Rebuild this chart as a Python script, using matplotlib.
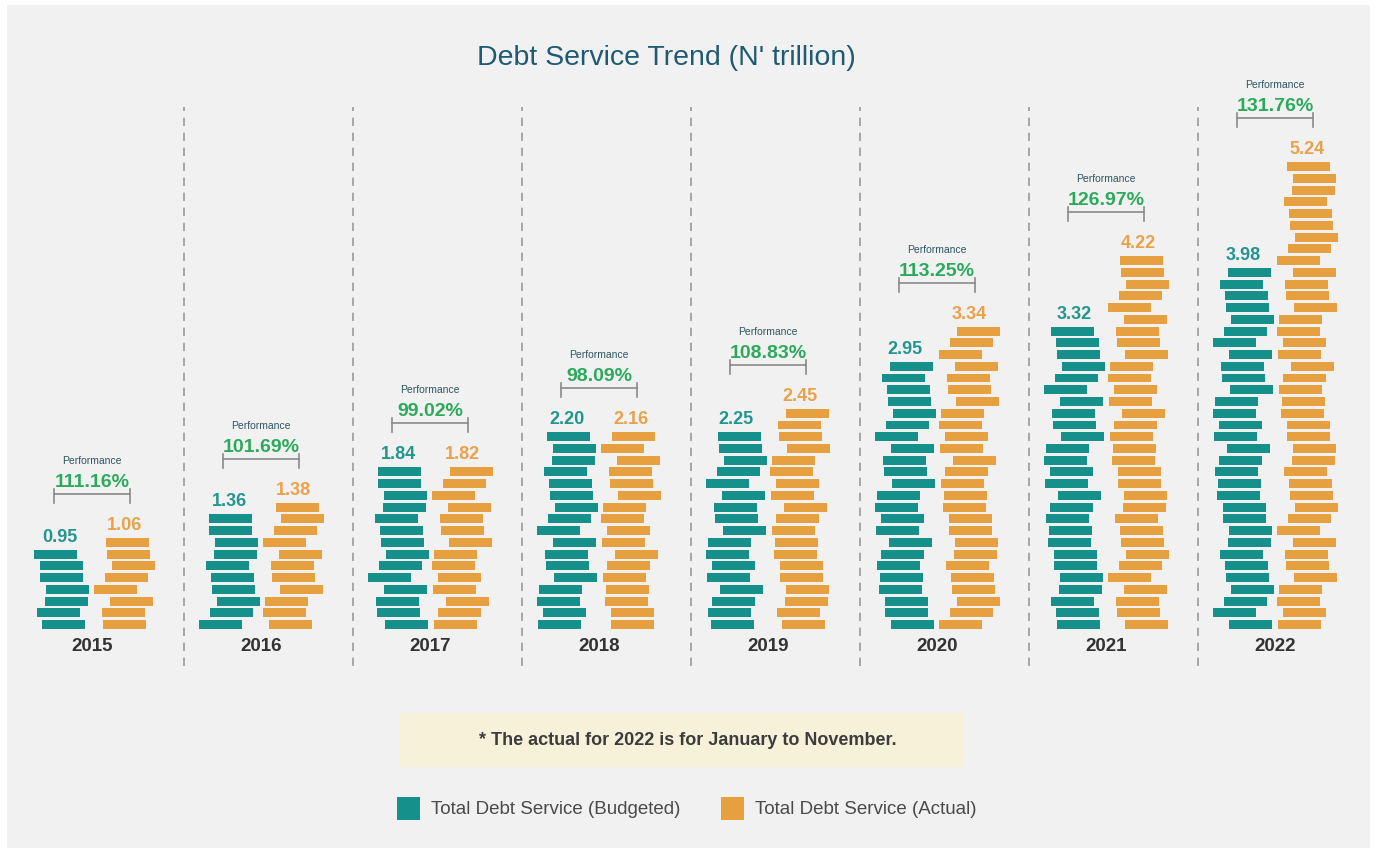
import matplotlib
matplotlib.use("Agg")
import matplotlib.pyplot as plt
from matplotlib.patches import Rectangle

plt.rcParams['font.family'] = ['Liberation Sans', 'DejaVu Sans']

# data
years = ['2015', '2016', '2017', '2018', '2019', '2020', '2021', '2022']
budgeted = [0.95, 1.36, 1.84, 2.20, 2.25, 2.95, 3.32, 3.98]
actual = [1.06, 1.38, 1.82, 2.16, 2.45, 3.34, 4.22, 5.24]
performance = ['111.16%', '101.69%', '99.02%', '98.09%', '108.83%', '113.25%', '126.97%', '131.76%']

TEAL = '#15908a'
ORANGE = '#e6a040'
TEAL_TXT = '#22958f'
ORANGE_TXT = '#e9a24a'
GREEN = '#2caa5c'

W, H = 1377, 854
fig = plt.figure(figsize=(W / 100, H / 100), dpi=100, facecolor='white')
fig.patches.append(Rectangle((7 / W, 5 / H), 1363 / W, 843 / H, transform=fig.transFigure,
                             facecolor='#f1f1f1', edgecolor='none', zorder=-10))

# axes spans the whole figure; x in group units, y in trillions
ax = fig.add_axes([0, 0, 1, 1])
ax.set_facecolor('none')
PX_X = 169.0   # pixels per group
PX_Y = 90.3    # pixels per trillion
ax.set_xlim(-92 / PX_X, (W - 92) / PX_X)
ax.set_ylim(-(H - 630) / PX_Y, 630 / PX_Y)
ax.axis('off')

px = lambda p: p / PX_X   # horizontal pixel size -> x units
py = lambda p: p / PX_Y   # vertical pixel size -> y units

brick = 0.13            # trillions per brick
brick_h = brick * 0.76
brick_w = px(43)
jitter = [3, -7, 1, -9, 5, -2, 8, -5, 2, -8, 6, 0, -4, 9, -3, 7, -1, -7, 4, -9, 1, 7, -3]

for i, (b, a) in enumerate(zip(budgeted, actual)):
    tops = []
    for s, (v, col, dx) in enumerate([(b, TEAL, -32), (a, ORANGE, 32)]):
        n = int(round(v / brick))
        for k in range(n):
            off = jitter[(k * 5 + i * 3 + s * 11) % len(jitter)]
            ax.add_patch(Rectangle((i + px(dx + off) - brick_w / 2, k * brick), brick_w, brick_h,
                                   facecolor=col, edgecolor='none'))
        top = (n - 1) * brick + brick_h
        tops.append(top)
        ax.text(i + px(dx), top + py(5), f'{v:.2f}', ha='center', va='bottom',
                fontsize=13, fontweight='bold', color=TEAL_TXT if s == 0 else ORANGE_TXT)

    # performance bracket
    yb = max(tops) + py(44)
    x0, x1 = i - px(38), i + px(38)
    ax.plot([x0, x1], [yb, yb], color='#8a8a8a', lw=1.2)
    for xe in (x0, x1):
        ax.plot([xe, xe], [yb - py(9), yb + py(5)], color='#8a8a8a', lw=1.2)
    ax.text(i, yb + py(4), performance[i], ha='center', va='bottom',
            fontsize=14, fontweight='bold', color=GREEN)
    ax.text(i, yb + py(34), 'Performance', ha='center', va='center',
            fontsize=7.5, color='#2f5563')

    ax.text(i, py(-17), years[i], ha='center', va='center',
            fontsize=13.5, fontweight='bold', color='#333333')

# dashed separators
for i in range(len(years) - 1):
    xs = i + 0.5 + px(7)
    ax.plot([xs, xs], [py(-37), py(522)], color='#9a9a9a', lw=1.2, ls=(0, (5, 4)))

# title
fig.text(666 / W, 1 - 58 / H, "Debt Service Trend (N' trillion)", ha='center', va='center',
         fontsize=20.5, color='#1f5a72')

# note box
fig.patches.append(Rectangle((400 / W, 1 - 768 / H), 564 / W, 54 / H, transform=fig.transFigure,
                             facecolor='#f7f1da', edgecolor='none', zorder=-5))
fig.text(688 / W, 1 - 741 / H, '* The actual for 2022 is for January to November.',
         ha='center', va='center', fontsize=13, fontweight='bold', color='#3c3c3c')

# legend
for xs, col, lab in [(397, TEAL, 'Total Debt Service (Budgeted)'),
                     (721, ORANGE, 'Total Debt Service (Actual)')]:
    fig.patches.append(Rectangle((xs / W, 1 - 821 / H), 23 / W, 23 / H, transform=fig.transFigure,
                                 facecolor=col, edgecolor='none'))
    fig.text((xs + 34) / W, 1 - 810 / H, lab, ha='left', va='center', fontsize=13.5, color='#4a4a4a')

fig.savefig('out.png', dpi=100, facecolor=fig.get_facecolor())
